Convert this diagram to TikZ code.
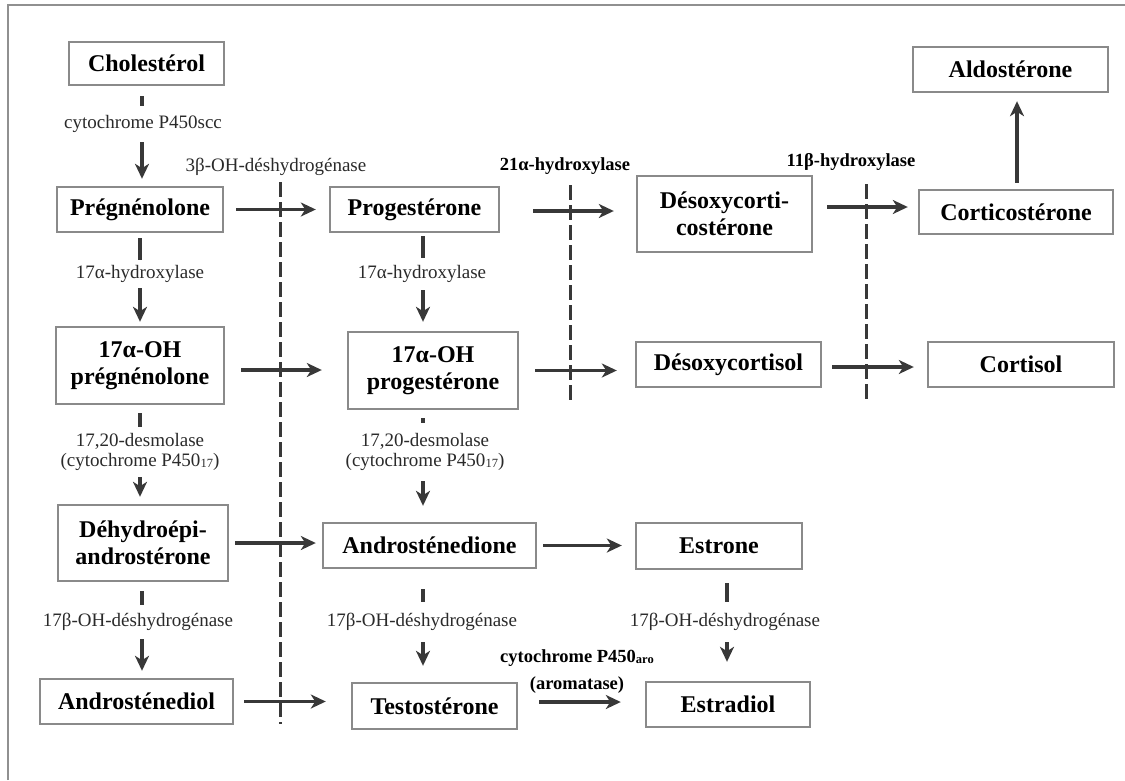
\documentclass[tikz,border=0pt]{standalone}
\usepackage{fontspec}
\setmainfont{Liberation Serif}
\usetikzlibrary{arrows.meta}
\definecolor{boxgray}{HTML}{8A8A8A}
\definecolor{arrgray}{HTML}{383838}
\definecolor{labgray}{HTML}{2A2A2A}
\definecolor{framegray}{HTML}{909090}
\newcommand{\smallsub}[1]{\raisebox{-1pt}{\fontsize{12.5}{12.5}\selectfont #1}}
\begin{document}
\begin{tikzpicture}[x=1pt,y=-1pt,
  box/.style={draw=boxgray,line width=2.4pt,inner sep=0pt,align=center,
    font=\fontsize{24}{27}\selectfont\bfseries,text=black},
  enz/.style={fill=white,inner xsep=1pt,align=center,
    font=\fontsize{19}{20.5}\selectfont,text=labgray},
  benz/.style={inner sep=0pt,align=center,font=\fontsize{18.5}{27}\selectfont\bfseries,text=black},
  arr/.style={draw=arrgray,line width=3.4pt,-{Stealth[length=15pt,width=14pt,inset=4.5pt]}},
  sep/.style={draw=arrgray,line width=3pt,dash pattern=on 15pt off 5pt}]
\useasboundingbox (0,0) rectangle (1125,780);
\fill[white] (0,0) rectangle (1125,780);
\draw[framegray,line width=2pt] (8,780) -- (8,5) -- (1125,5);

% boxes
\node[box,minimum width=155pt,minimum height=43pt] (chol) at (146.5,63.5) {Cholestérol};
\node[box,minimum width=166pt,minimum height=45pt] (preg) at (140,209.5) {Prégnénolone};
\node[box,minimum width=169pt,minimum height=45pt] (prog) at (414.5,209.5) {Progestérone};
\node[box,minimum width=175pt,minimum height=76pt] (doc) at (724.5,214) {Désoxycorti-\\costérone};
\node[box,minimum width=194pt,minimum height=44pt] (cortico) at (1016,212) {Corticostérone};
\node[box,minimum width=195pt,minimum height=45pt] (aldo) at (1010.5,69.5) {Aldostérone};
\node[box,minimum width=168pt,minimum height=77pt] (ohpreg) at (140,365.5) {17α-OH\\prégnénolone};
\node[box,minimum width=170pt,minimum height=77pt] (ohprog) at (433,370.5) {17α-OH\\progestérone};
\node[box,minimum width=185pt,minimum height=45pt] (dcol) at (728.5,364.5) {Désoxycortisol};
\node[box,minimum width=186pt,minimum height=45pt] (cortisol) at (1021,364.5) {Cortisol};
\node[box,minimum width=170pt,minimum height=76pt] (dhea) at (143,543) {Déhydroépi-\\androstérone};
\node[box,minimum width=213pt,minimum height=45pt] (andro) at (429.5,545.5) {Androsténedione};
\node[box,minimum width=166pt,minimum height=46pt] (estrone) at (719,546) {Estrone};
\node[box,minimum width=193pt,minimum height=45pt] (diol) at (136.5,701.5) {Androsténediol};
\node[box,minimum width=165pt,minimum height=46pt] (testo) at (434.5,706) {Testostérone};
\node[box,minimum width=164pt,minimum height=45pt] (estradiol) at (728,704.5) {Estradiol};

% dashed separators
\coordinate (d1t) at (280,182); \coordinate (d1b) at (280,724);
\coordinate (d2t) at (570,185); \coordinate (d2b) at (570,400);
\coordinate (d3t) at (866,184); \coordinate (d3b) at (866,402);
\draw[sep] (d1t) -- (d1b);
\draw[sep] (d2t) -- (d2b);
\draw[sep] (d3t) -- (d3b);

% vertical connectors
\draw[arr,shorten <=10pt,shorten >=7pt] ([xshift=-4.5pt]chol.south) -- ([xshift=2pt]preg.north);
\draw[arr,shorten <=5pt,shorten >=4pt] (preg.south) -- (ohpreg.north);
\draw[arr,shorten <=8pt,shorten >=7pt] (ohpreg.south) -- ([xshift=-3pt]dhea.north);
\draw[arr,shorten <=9pt,shorten >=7pt] ([xshift=-1pt]dhea.south) -- ([xshift=5.5pt]diol.north);
\draw[arr,shorten <=3pt,shorten >=9pt] ([xshift=8.5pt]prog.south) -- ([xshift=-10pt]ohprog.north);
\draw[arr,shorten <=8pt,shorten >=16pt] ([xshift=-10pt]ohprog.south) -- ([xshift=-6.5pt]andro.north);
\draw[arr,shorten <=20pt,shorten >=16pt] ([xshift=-6.5pt]andro.south) -- ([xshift=-11.5pt]testo.north);
\draw[arr,shorten <=13pt,shorten >=19pt] ([xshift=8pt]estrone.south) -- ([xshift=-1pt]estradiol.north);
\draw[arr,shorten <=6pt,shorten >=8pt] ([xshift=1pt]cortico.north) -- ([xshift=6.5pt]aldo.south);

% horizontal connectors
\draw[arr,shorten <=12pt,shorten >=13pt] (preg.east) -- (preg.east -| prog.west);
\draw[arr,shorten <=33pt,shorten >=22pt] ([yshift=-1.5pt]prog.east) -- ([yshift=-1.5pt]prog.east -| doc.west);
\draw[arr,shorten <=14pt,shorten >=10pt] ([yshift=7pt]doc.east) -- ([yshift=7pt]doc.east -| cortico.west);
\draw[arr,shorten <=16pt,shorten >=25pt] ([yshift=-4.5pt]ohpreg.east) -- ([yshift=-4.5pt]ohpreg.east -| ohprog.west);
\draw[arr,shorten <=16pt,shorten >=18pt] (ohprog.east) -- (ohprog.east -| dcol.west);
\draw[arr,shorten <=10pt,shorten >=13pt] ([yshift=-2.5pt]dcol.east) -- ([yshift=-2.5pt]dcol.east -| cortisol.west);
\draw[arr,shorten <=6pt,shorten >=6pt] (dhea.east) -- (dhea.east -| andro.west);
\draw[arr,shorten <=6pt,shorten >=13pt] (andro.east) -- (andro.east -| estrone.west);
\draw[arr,shorten <=10pt,shorten >=25pt] (diol.east) -- (diol.east -| testo.west);
\draw[arr,shorten <=21pt,shorten >=24pt] ([yshift=4pt]testo.east) -- ([yshift=4pt]testo.east -| estradiol.west);

% enzyme labels
\node[enz,inner ysep=9pt] (e1) at (143,124) {cytochrome P450scc};
\node[enz,inner ysep=5pt] (e2) at (140,274) {17α-hydroxylase};
\node[enz,inner ysep=7pt] (e3) at (422,274) {17α-hydroxylase};
\node[enz,inner ysep=6pt] (e4) at (140,452) {17,20-desmolase\\(cytochrome P450\smallsub{17})};
\node[enz,inner ysep=10pt] (e5) at (425,452) {17,20-desmolase\\(cytochrome P450\smallsub{17})};
\node[enz,inner ysep=8pt] (e6) at (138,622) {17β-OH-déshydrogénase};
\node[enz,inner ysep=11pt] (e7) at (422,622) {17β-OH-déshydrogénase};
\node[enz,inner ysep=11pt] (e8) at (725,622) {17β-OH-déshydrogénase};
\node[enz,fill=none,inner ysep=1pt] (e9) at (276,167) {3β-OH-déshydrogénase};
\node[benz] (e10) at (565,166) {21α-hydroxylase};
\node[benz] (e11) at (851,162) {11β-hydroxylase};
\node[benz] (e12) at (577,671.5) {cytochrome P450\smallsub{aro}\\(aromatase)};
\end{tikzpicture}
\end{document}
